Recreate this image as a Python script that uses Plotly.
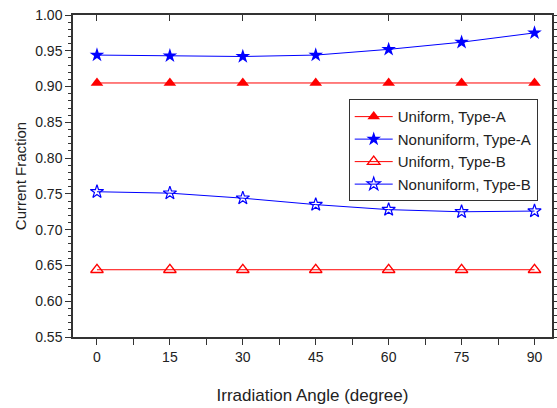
import plotly.graph_objects as go

angles = [0, 15, 30, 45, 60, 75, 90]
uniform_a = [0.905, 0.905, 0.905, 0.905, 0.905, 0.905, 0.905]
nonuniform_a = [0.944, 0.943, 0.942, 0.944, 0.952, 0.962, 0.975]
uniform_b = [0.644, 0.644, 0.644, 0.644, 0.644, 0.644, 0.644]
nonuniform_b = [0.753, 0.751, 0.744, 0.735, 0.728, 0.725, 0.726]

y_ticks = [0.55, 0.60, 0.65, 0.70, 0.75, 0.80, 0.85, 0.90, 0.95, 1.00]
x_ticks = [0, 15, 30, 45, 60, 75, 90]

FONT = "Liberation Sans, Arial, sans-serif"

fig = go.Figure()
fig.add_trace(go.Scatter(x=angles, y=uniform_a, name="Uniform, Type-A", mode="lines+markers",
                         line=dict(color="#ff0000", width=1),
                         marker=dict(symbol="triangle-up", size=11, color="#ff0000")))
fig.add_trace(go.Scatter(x=angles, y=nonuniform_a, name="Nonuniform, Type-A", mode="lines+markers",
                         line=dict(color="#0000ff", width=1),
                         marker=dict(symbol="star", size=11, color="#0000ff")))
fig.add_trace(go.Scatter(x=angles, y=uniform_b, name="Uniform, Type-B", mode="lines+markers",
                         line=dict(color="#ff0000", width=1),
                         marker=dict(symbol="triangle-up-open", size=11, color="#ff0000",
                                     line=dict(width=1.3))))
fig.add_trace(go.Scatter(x=angles, y=nonuniform_b, name="Nonuniform, Type-B", mode="lines+markers",
                         line=dict(color="#0000ff", width=1),
                         marker=dict(symbol="star-open", size=10, color="#0000ff",
                                     line=dict(width=1.2))))

fig.update_layout(
    width=557, height=408,
    margin=dict(l=73, r=5, t=15, b=71),
    paper_bgcolor="white", plot_bgcolor="white",
    font=dict(family=FONT, size=14, color="#222"),
    showlegend=True,
    legend=dict(x=0.5756, y=0.738, xanchor="left", yanchor="top",
                bordercolor="#333", borderwidth=1, bgcolor="white",
                font=dict(size=15, family=FONT), tracegroupgap=0,
                itemwidth=38),
    xaxis=dict(range=[-4.93, 93.6], tickvals=x_ticks, ticks="outside", ticklen=6,
               tickwidth=1, tickcolor="#333", showline=True, linecolor="#333", linewidth=1.5,
               mirror=True, showgrid=False, zeroline=False, automargin=False,
               minor=dict(dtick=7.5, tick0=0, ticks="outside", ticklen=6, tickcolor="#333"),
               title=dict(text="Irradiation Angle (degree)", font=dict(size=17, family=FONT),
                          standoff=26),
               tickfont=dict(size=14, family=FONT)),
    xaxis2=dict(range=[-4.93, 93.6], overlaying="x", side="top", anchor="y",
                tickvals=x_ticks, ticks="inside", ticklen=6, tickcolor="#333",
                showticklabels=False, showgrid=False, zeroline=False, showline=False,
                automargin=False),
    yaxis=dict(range=[0.55, 1.00], tickvals=y_ticks, tickformat=".2f", ticks="outside",
               ticklen=6, tickwidth=1, tickcolor="#333", showline=True, linecolor="#333",
               linewidth=1.5, mirror="ticks", showgrid=False, zeroline=False, automargin=False,
               minor=dict(dtick=0.01, tick0=0.55, ticks="outside", ticklen=3, tickcolor="#333"),
               title=dict(text="Current Fraction", font=dict(size=15, family=FONT), standoff=5),
               tickfont=dict(size=14, family=FONT)),
)
# invisible trace to activate top axis
fig.add_trace(go.Scatter(x=[0], y=[0.6], xaxis="x2", mode="markers",
                         marker=dict(opacity=0), showlegend=False, hoverinfo="skip"))

fig.write_html("out.html", config={"displayModeBar": False},
               post_script="document.body.style.margin='0';document.body.style.overflow='hidden';")
